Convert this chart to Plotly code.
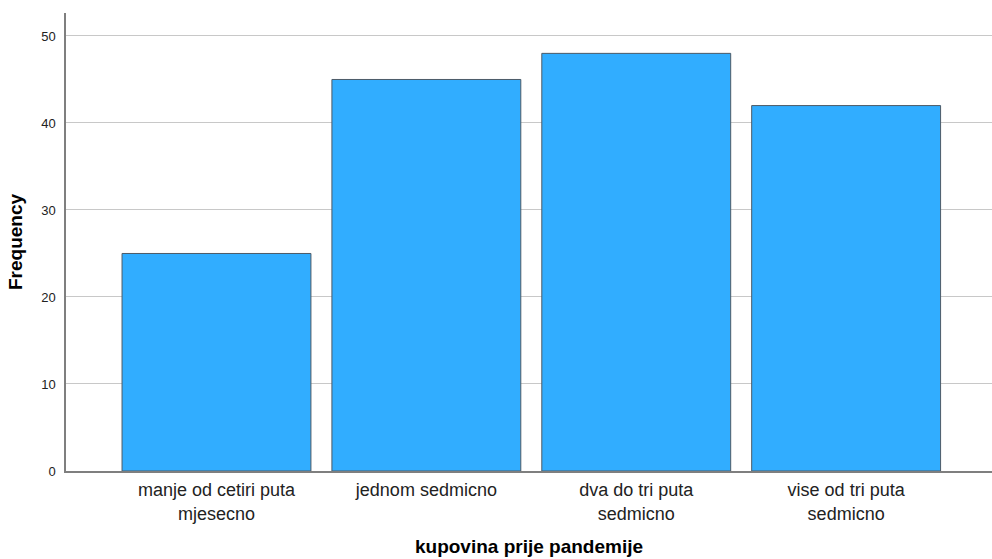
import plotly.graph_objects as go

categories = ["manje od cetiri puta<br>mjesecno", "jednom sedmicno", "dva do tri puta<br>sedmicno", "vise od tri puta<br>sedmicno"]
frequencies = [25, 45, 48, 42]
y_ticks = [0, 10, 20, 30, 40, 50]

fig = go.Figure(go.Bar(
    x=list(range(len(categories))),
    y=frequencies,
    width=0.9,
    marker=dict(color="#31adff", line=dict(color="#4d5a66", width=1)),
))

fig.update_layout(
    width=992, height=559,
    margin=dict(l=66, r=0, t=13, b=88),
    plot_bgcolor="white", paper_bgcolor="white",
    showlegend=False,
    font=dict(family="Liberation Sans, Arial, sans-serif", color="#222"),
)
fig.update_xaxes(
    range=[-0.717, 3.695],
    tickmode="array", tickvals=list(range(len(categories))), ticktext=categories,
    tickfont=dict(size=18, color="#222"),
    showgrid=False, zeroline=False,
    showline=True, linecolor="#7f7f7f", linewidth=1.5,
    ticks="", ticklabelstandoff=2,
    title=dict(text="<b>kupovina prije pandemije</b>", font=dict(size=19, color="#000"), standoff=17),
)
fig.update_yaxes(
    range=[0, 52.64],
    tickmode="array", tickvals=y_ticks,
    tickfont=dict(size=13, color="#222"),
    showgrid=True, gridcolor="#c8c8c8", gridwidth=1,
    zeroline=False,
    showline=True, linecolor="#7f7f7f", linewidth=1.5,
    ticks="", ticklabelstandoff=6,
    title=dict(text="<b>Frequency</b>", font=dict(size=19, color="#000"), standoff=14),
)

fig.write_html("out.html", config={"displayModeBar": False},
               post_script="document.body.style.margin='0';document.body.style.overflow='hidden';")
